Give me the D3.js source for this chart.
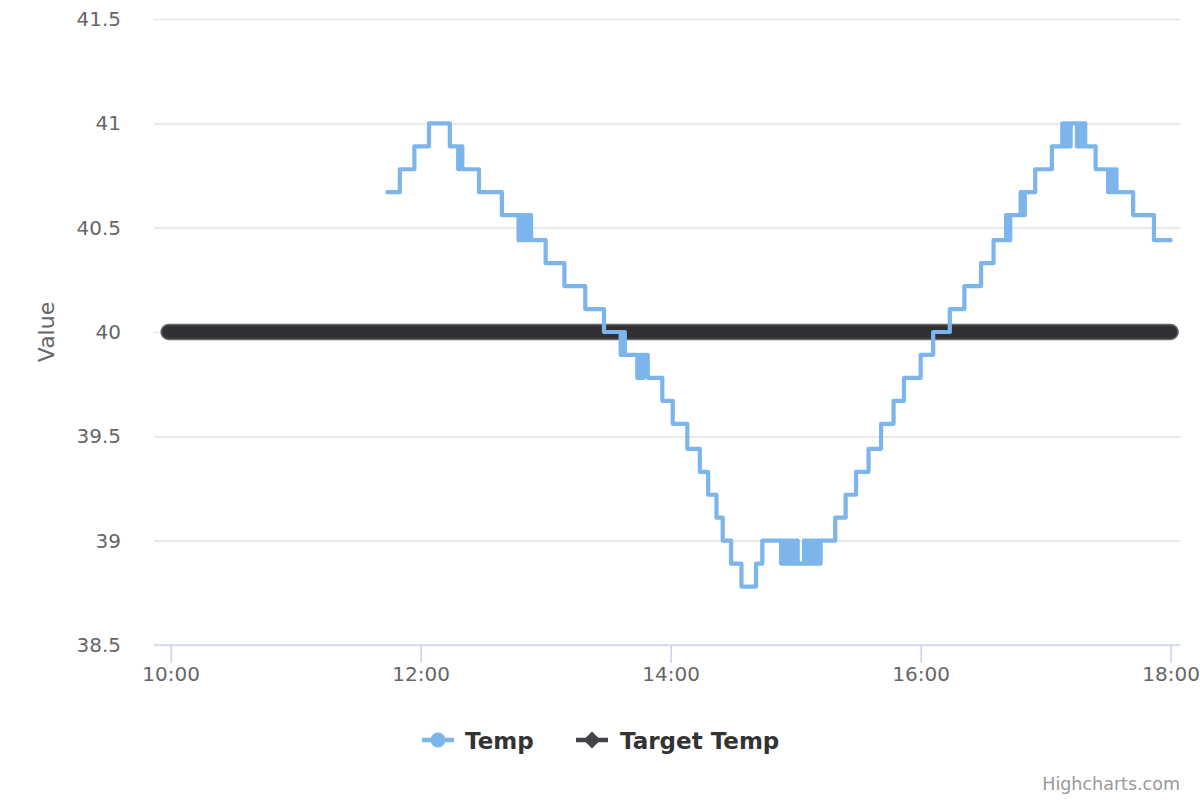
<!DOCTYPE html>
<html>
<head>
<meta charset="utf-8">
<script src="https://cdn.jsdelivr.net/npm/d3@7/dist/d3.min.js"></script>
<style>
  html, body { margin: 0; padding: 0; background: #ffffff; }
  svg { display: block; font-family: "DejaVu Sans", "Lucida Grande", sans-serif; }
</style>
</head>
<body>
<svg id="chart" width="1200" height="800"></svg>
<script>
// ---- data ----
const tempTimes = [
  "11:44","11:50","11:57","12:04","12:14","12:18","12:19","12:20",
  "12:28","12:39","12:47","12:48","12:49","12:50","12:51","12:52","12:53","13:00",
  "13:09","13:19","13:28","13:36","13:37","13:38","13:44","13:45","13:46","13:47",
  "13:49","13:56","14:01","14:08","14:14","14:18","14:22","14:25","14:29","14:34",
  "14:41","14:44","14:53","14:54","14:55","14:56","14:57","14:58","14:59","15:00",
  "15:01","15:04","15:05","15:06","15:07","15:08","15:09","15:10","15:11","15:12",
  "15:19","15:24","15:29","15:35","15:41","15:47","15:52","16:00","16:06","16:14",
  "16:21","16:29","16:35","16:41","16:42","16:43","16:48","16:49","16:50",
  "16:55","17:03","17:08","17:09","17:10","17:11","17:12",
  "17:15","17:16","17:17","17:18","17:19","17:24","17:30","17:31","17:32","17:33",
  "17:34","17:42","17:52","18:00"
];
const tempValues = [
  40.67,40.78,40.89,41.00,40.89,40.78,40.89,40.78,
  40.67,40.56,40.44,40.56,40.44,40.56,40.44,40.56,40.44,40.33,
  40.22,40.11,40.00,39.89,40.00,39.89,39.78,39.89,39.78,39.89,
  39.78,39.67,39.56,39.44,39.33,39.22,39.11,39.00,38.89,38.78,
  38.89,39.00,38.89,39.00,38.89,39.00,38.89,39.00,38.89,39.00,
  38.89,39.00,38.89,39.00,38.89,39.00,38.89,39.00,38.89,39.00,
  39.11,39.22,39.33,39.44,39.56,39.67,39.78,39.89,40.00,40.11,
  40.22,40.33,40.44,40.56,40.44,40.56,40.67,40.56,40.67,
  40.78,40.89,41.00,40.89,41.00,40.89,41.00,
  40.89,41.00,40.89,41.00,40.89,40.78,40.67,40.78,40.67,40.78,
  40.67,40.56,40.44,40.44
];
const targetTimes = ["09:59", "18:00"];
const targetValues = [40, 40];
const yTickValues = [38.5, 39, 39.5, 40, 40.5, 41, 41.5];
const xTickLabels = ["10:00", "12:00", "14:00", "16:00", "18:00"];
const xDomainLabels = ["09:52:00", "18:04:30"];
const yDomain = [38.5, 41.5];
const seriesNames = ["Temp", "Target Temp"];
const axisTitle = "Value";
const creditText = "Highcharts.com";

// ---- layout ----
const svg = d3.select("#chart");
const plot = { left: 154, right: 1180, top: 19, bottom: 645 };
const parseHM = d3.timeParse("%H:%M");
const parseHMS = d3.timeParse("%H:%M:%S");

const x = d3.scaleTime()
  .domain(xDomainLabels.map(parseHMS))
  .range([plot.left, plot.right]);
const y = d3.scaleLinear().domain(yDomain).range([plot.bottom, plot.top]);

// grid + y labels
const yAxis = d3.axisLeft(y)
  .tickValues(yTickValues)
  .tickSize(-(plot.right - plot.left))
  .tickPadding(33)
  .tickFormat(d => d3.format("")(d));
const gy = svg.append("g").attr("transform", `translate(${plot.left},0)`).call(yAxis);
gy.select(".domain").remove();
gy.selectAll(".tick line").attr("stroke", "#e6e6e6").attr("stroke-width", 1.6);
gy.selectAll(".tick text")
  .attr("fill", "#666666").attr("font-size", 20)
  .attr("font-family", "DejaVu Sans, sans-serif");

// x axis
const xAxis = d3.axisBottom(x)
  .tickValues(xTickLabels.map(parseHM))
  .tickSize(18)
  .tickPadding(4)
  .tickFormat(d3.timeFormat("%H:%M"));
const gx = svg.append("g").attr("transform", `translate(0,${plot.bottom})`).call(xAxis);
gx.select(".domain").attr("stroke", "#ccd6eb").attr("stroke-width", 1.7)
  .attr("d", `M${plot.left},0H${plot.right}`);
gx.selectAll(".tick line").attr("stroke", "#ccd6eb").attr("stroke-width", 1.7);
gx.selectAll(".tick text")
  .attr("fill", "#666666").attr("font-size", 20)
  .attr("font-family", "DejaVu Sans, sans-serif");

// y axis title
svg.append("text")
  .attr("transform", `translate(54,${(plot.top + plot.bottom) / 2}) rotate(-90)`)
  .attr("text-anchor", "middle")
  .attr("fill", "#666666").attr("font-size", 22)
  .text(axisTitle);

// target series (thick band of markers)
const targetData = targetTimes.map((t, i) => ({ t: parseHM(t), v: targetValues[i] }));
const line = d3.line().x(d => x(d.t)).y(d => y(d.v));
svg.append("path").datum(targetData)
  .attr("d", line)
  .attr("fill", "none").attr("stroke", "#6a6a6e").attr("stroke-width", 16.5)
  .attr("stroke-linecap", "round");
svg.append("path").datum(targetData)
  .attr("d", line)
  .attr("fill", "none").attr("stroke", "#303035").attr("stroke-width", 13.5)
  .attr("stroke-linecap", "round");

// temp series (step line)
const tempData = tempTimes.map((t, i) => ({ t: parseHM(t), v: tempValues[i] }));
const stepLine = d3.line().x(d => x(d.t)).y(d => y(d.v)).curve(d3.curveStepAfter);
svg.append("path").datum(tempData)
  .attr("d", stepLine)
  .attr("fill", "none").attr("stroke", "#7cb5ec").attr("stroke-width", 4.2)
  .attr("stroke-linejoin", "round").attr("stroke-linecap", "round");

// legend
const legendY = 740;
const lg = svg.append("g");
// Temp
lg.append("line").attr("x1", 422).attr("x2", 454).attr("y1", legendY).attr("y2", legendY)
  .attr("stroke", "#7cb5ec").attr("stroke-width", 4.5);
lg.append("circle").attr("cx", 438).attr("cy", legendY).attr("r", 7.5).attr("fill", "#7cb5ec");
lg.append("text").attr("x", 465).attr("y", legendY + 8.5)
  .attr("font-size", 23).attr("font-weight", "bold").attr("fill", "#333333")
  .text(seriesNames[0]);
// Target
lg.append("line").attr("x1", 576).attr("x2", 608).attr("y1", legendY).attr("y2", legendY)
  .attr("stroke", "#434348").attr("stroke-width", 4.5);
lg.append("path")
  .attr("d", `M592,${legendY - 8.5}L600.5,${legendY}L592,${legendY + 8.5}L583.5,${legendY}Z`)
  .attr("fill", "#434348");
lg.append("text").attr("x", 620).attr("y", legendY + 8.5)
  .attr("font-size", 23).attr("font-weight", "bold").attr("fill", "#333333")
  .text(seriesNames[1]);

// credits
svg.append("text").attr("x", 1180).attr("y", 790)
  .attr("text-anchor", "end").attr("font-size", 17.5).attr("fill", "#999999")
  .text(creditText);
</script>
</body>
</html>
